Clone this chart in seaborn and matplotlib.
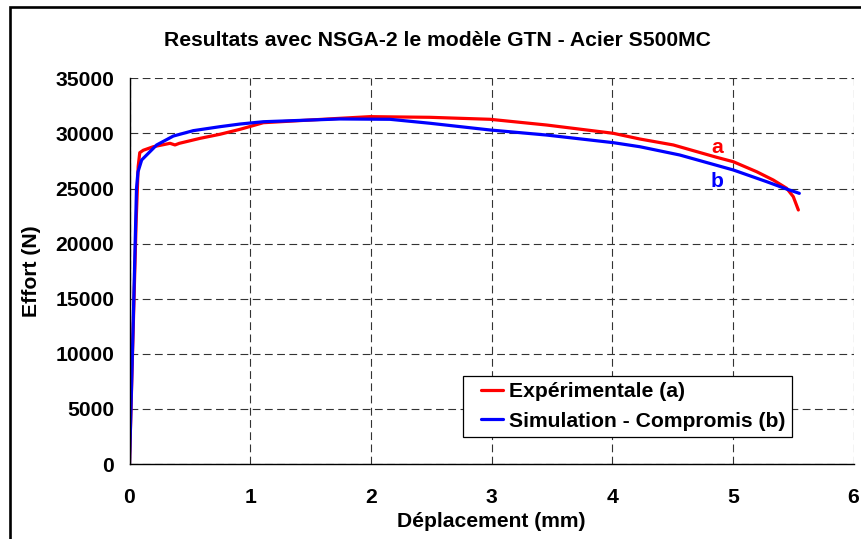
import numpy as np
import pandas as pd
import matplotlib
matplotlib.use("Agg")
import matplotlib.pyplot as plt
from matplotlib.patches import Rectangle
from matplotlib.legend_handler import HandlerLine2D
import seaborn as sns

# Force-displacement curves (displacement in mm, force in N)
exp_disp = [0.0, 0.030, 0.055, 0.072, 0.085, 0.114, 0.197, 0.336, 0.377, 0.413,
            0.584, 0.750, 0.916, 1.109, 1.744, 1.993, 2.490, 2.988, 3.457, 4.009,
            4.230, 4.507, 4.866, 5.004, 5.198, 5.335, 5.446, 5.501, 5.543]
exp_force = [0, 12000, 22000, 27000, 28250, 28470, 28790, 29100, 28950, 29100,
             29550, 29920, 30370, 30970, 31370, 31520, 31460, 31280, 30760, 30010,
             29490, 28950, 27830, 27430, 26520, 25770, 25020, 24260, 23050]

sim_disp = [0.0, 0.030, 0.058, 0.070, 0.101, 0.225, 0.363, 0.529, 0.750, 0.916,
            1.109, 1.744, 2.158, 2.490, 2.988, 3.457, 4.009, 4.230, 4.560, 5.004,
            5.280, 5.446, 5.551]
sim_force = [0, 12500, 25000, 26500, 27590, 28950, 29760, 30250, 30610, 30850,
             31060, 31310, 31280, 30920, 30310, 29850, 29160, 28790, 28040, 26680,
             25620, 24950, 24560]

series_labels = ["Expérimentale (a)", "Simulation - Compromis (b)"]
series_tags = ["a", "b"]
tag_pos = [(4.87, 28700), (4.87, 25600)]
colors = ["#FF0000", "#0000FF"]

title = "Resultats avec NSGA-2 le modèle GTN - Acier S500MC"
x_label = "Déplacement (mm)"
y_label = "Effort (N)"
x_ticks = [0, 1, 2, 3, 4, 5, 6]
y_ticks = [0, 5000, 10000, 15000, 20000, 25000, 30000, 35000]

df = pd.concat([
    pd.DataFrame({"disp": exp_disp, "force": exp_force, "serie": series_labels[0]}),
    pd.DataFrame({"disp": sim_disp, "force": sim_force, "serie": series_labels[1]}),
], ignore_index=True)

sns.set_style("white")
plt.rcParams["font.family"] = ["Liberation Sans", "DejaVu Sans"]
plt.rcParams["font.weight"] = "bold"
plt.rcParams["text.color"] = "black"
plt.rcParams["axes.labelcolor"] = "black"

W, H = 861, 539
fig = plt.figure(figsize=(W / 100, H / 100), dpi=100)
x0, x1, y0, y1 = 129.5, 853.5, 78.3, 464.0
ax = fig.add_axes([x0 / W, 1 - y1 / H, (x1 - x0) / W, (y1 - y0) / H])

sns.lineplot(data=df, x="disp", y="force", hue="serie", palette=colors,
             sort=False, estimator=None, linewidth=2.3, ax=ax, legend=False)

ax.set_xlim(0, 6)
ax.set_ylim(0, 35000)
ax.set_xticks(x_ticks)
ax.set_yticks(y_ticks)
ax.set_xticklabels([str(t) for t in x_ticks])
ax.set_yticklabels([str(t) for t in y_ticks])

fs = 15.2
ax.tick_params(axis="both", direction="inout", length=10, width=0.9,
               color="black", labelsize=fs, labelcolor="black")
ax.tick_params(axis="y", pad=6)
ax.tick_params(axis="x", pad=12)
for lbl in ax.get_xticklabels() + ax.get_yticklabels():
    lbl.set_fontweight("bold")

ax.grid(True, which="major", color="#333333", linestyle=(0, (7, 4)),
        linewidth=0.8)
ax.set_axisbelow(True)
for side in ["top", "right"]:
    ax.spines[side].set_visible(False)
for side in ["left", "bottom"]:
    ax.spines[side].set_color("black")
    ax.spines[side].set_linewidth(1.0)

ax.set_xlabel(x_label, fontsize=fs, fontweight="bold", labelpad=4)
ax.set_ylabel(y_label, fontsize=fs, fontweight="bold", labelpad=10)

fig.text(437.5 / W, 1 - 40 / H, title, ha="center", va="center",
         fontsize=fs, fontweight="bold")

for tag, (tx, ty), c in zip(series_tags, tag_pos, colors):
    ax.text(tx, ty, tag, color=c, fontsize=fs, fontweight="bold",
            ha="center", va="center")


class ShortLine(HandlerLine2D):
    def get_xdata(self, legend, xdescent, ydescent, width, height, fontsize):
        start = -xdescent + 0.35 * width
        xs = np.array([start, -xdescent + width])
        return xs, xs


handles = [ax.lines[0], ax.lines[1]]
leg = ax.legend(handles, series_labels, loc="upper left",
                bbox_to_anchor=(463 / W, 1 - 376 / H),
                bbox_transform=fig.transFigure, borderaxespad=0,
                frameon=True, fancybox=False, shadow=False,
                handlelength=1.6, handletextpad=0.3,
                borderpad=0.3, labelspacing=0.5,
                handler_map={h: ShortLine() for h in handles},
                prop={"weight": "bold", "size": fs})
leg.get_frame().set_edgecolor("black")
leg.get_frame().set_linewidth(0.9)
leg.get_frame().set_facecolor("white")
leg.get_frame().set_alpha(1)

# outer chart border
fig.add_artist(Rectangle((9.5 / W, -0.1), 1.2, 1 - 7.5 / H + 0.1,
                         transform=fig.transFigure, fill=False,
                         edgecolor="black", linewidth=1.9))

fig.savefig("out.png", dpi=100)
